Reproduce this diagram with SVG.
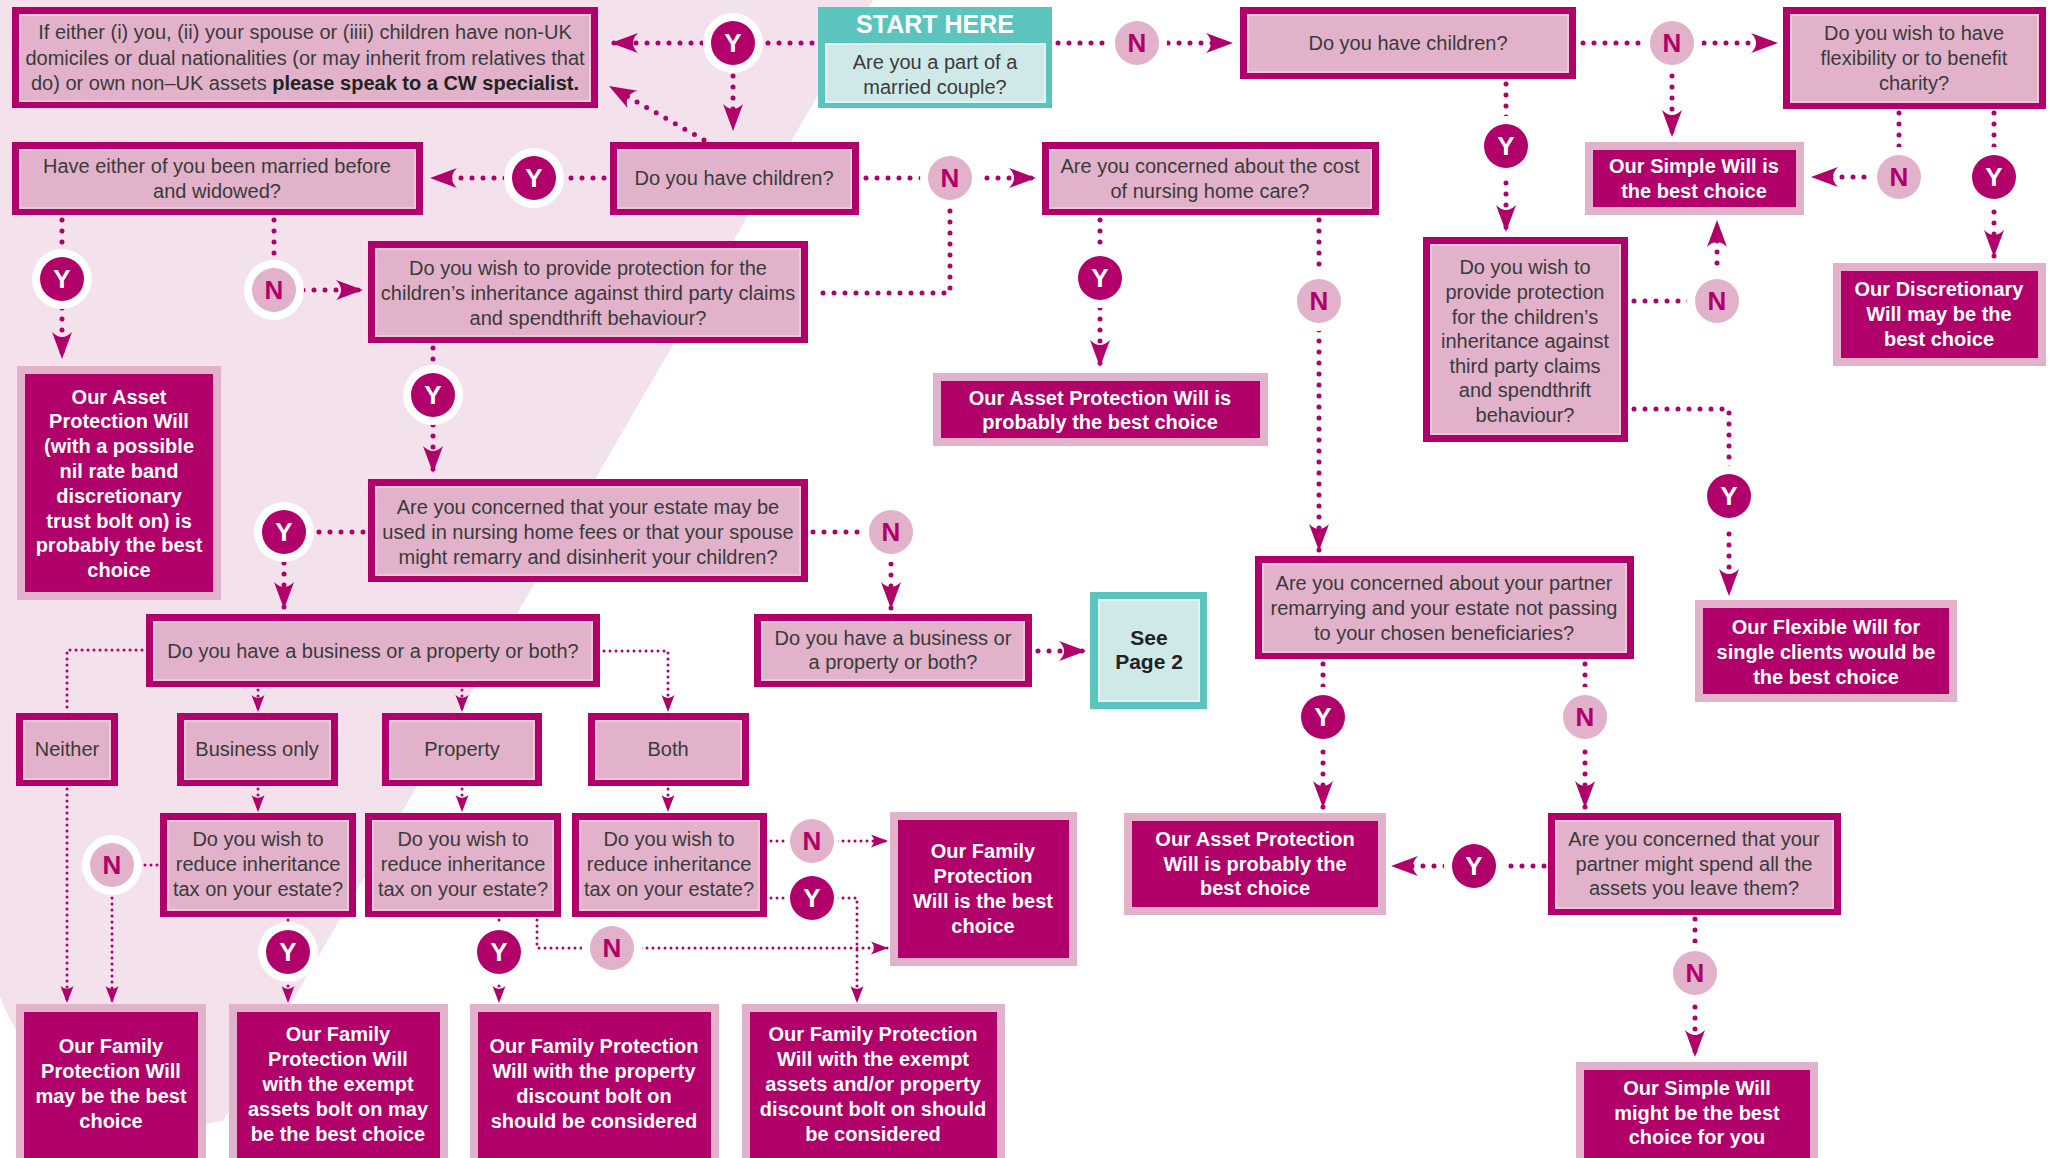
<svg xmlns="http://www.w3.org/2000/svg" width="2053" height="1158" viewBox="0 0 2053 1158">
<style>
.t{font-family:"Liberation Sans",Arial,Helvetica,sans-serif;font-size:20px;fill:#3a3a3a;text-anchor:middle}
.w{font-family:"Liberation Sans",Arial,Helvetica,sans-serif;font-size:20px;font-weight:bold;fill:#ffffff;text-anchor:middle}
.k{font-family:"Liberation Sans",Arial,Helvetica,sans-serif;font-size:21px;font-weight:bold;fill:#222222;text-anchor:middle}
.qo{fill:#b1006a}
.qi{fill:#e1b2ca;stroke:#ebc8da;stroke-width:2}
.ao{fill:#e1b2ca}
.ai{fill:#b1006a}
.to{fill:#5bc4bd}
.ti{fill:#cfe9e8;stroke:#e2f3f2;stroke-width:2}
.d{fill:none;stroke:#b1006a;stroke-width:5;stroke-linecap:round;stroke-dasharray:0 11}
.f{fill:none;stroke:#b1006a;stroke-width:3;stroke-linecap:round;stroke-dasharray:0 6}
.ring{fill:#ffffff}
.cy{fill:#b1006a}
.cn{fill:#e1b2ca}
.ly{font-family:"Liberation Sans",Arial,Helvetica,sans-serif;font-size:26px;font-weight:bold;fill:#ffffff;text-anchor:middle}
.lnn{font-family:"Liberation Sans",Arial,Helvetica,sans-serif;font-size:26px;font-weight:bold;fill:#b1006a;text-anchor:middle}
</style>
<defs>
<marker id="ah" markerUnits="userSpaceOnUse" markerWidth="30" markerHeight="22" viewBox="-29 -11 30 22" refX="0" refY="0" orient="auto">
<path d="M0,0 L-27,-10 Q-17,0 -27,10 Z" fill="#b1006a"/>
</marker>
<marker id="as" markerUnits="userSpaceOnUse" markerWidth="20" markerHeight="16" viewBox="-19 -8 20 16" refX="0" refY="0" orient="auto">
<path d="M0,0 L-17,-6.5 Q-11,0 -17,6.5 Z" fill="#b1006a"/>
</marker>
</defs>
<rect x="0" y="0" width="2053" height="1158" fill="#ffffff"/>
<path d="M0,0 L873,0 L223,1121 A198,198 0 0 1 0,997 Z" fill="#f3e2eb"/>

<g id="connectors">
<path class="d" d="M812,43 L611,43" marker-end="url(#ah)"/>
<path class="d" d="M733,43 L733,131" marker-end="url(#ah)"/>
<path class="d" d="M704,140 L609,86" marker-end="url(#ah)"/>
<path class="d" d="M1058,43 L1233,43" marker-end="url(#ah)"/>
<path class="d" d="M1583,43 L1778,43" marker-end="url(#ah)"/>
<path class="d" d="M1672,43 L1672,137" marker-end="url(#ah)"/>
<path class="d" d="M1899,113 L1899,177 L1811,177" marker-end="url(#ah)"/>
<path class="d" d="M1994,113 L1994,257" marker-end="url(#ah)"/>
<path class="d" d="M1506,84 L1506,232" marker-end="url(#ah)"/>
<path class="d" d="M1634,301 L1717,301 L1717,220" marker-end="url(#ah)"/>
<path class="d" d="M1634,409 L1729,409 L1729,596" marker-end="url(#ah)"/>
<path class="d" d="M604,178 L430,178" marker-end="url(#ah)"/>
<path class="d" d="M866,178 L1036,178" marker-end="url(#ah)"/>
<path class="d" d="M950,178 L950,293 L815,293"/>
<path class="d" d="M62,220 L62,359" marker-end="url(#ah)"/>
<path class="d" d="M274,220 L274,290 L363,290" marker-end="url(#ah)"/>
<path class="d" d="M433,348 L433,473" marker-end="url(#ah)"/>
<path class="d" d="M363,532 L284,532 L284,609" marker-end="url(#ah)"/>
<path class="d" d="M813,532 L891,532 L891,609" marker-end="url(#ah)"/>
<path class="d" d="M1038,651 L1086,651" marker-end="url(#ah)"/>
<path class="d" d="M1100,220 L1100,367" marker-end="url(#ah)"/>
<path class="d" d="M1319,220 L1319,551" marker-end="url(#ah)"/>
<path class="d" d="M1323,664 L1323,808" marker-end="url(#ah)"/>
<path class="d" d="M1585,664 L1585,808" marker-end="url(#ah)"/>
<path class="d" d="M1544,866 L1391,866" marker-end="url(#ah)"/>
<path class="d" d="M1695,919 L1695,1057" marker-end="url(#ah)"/>
<path class="f" d="M142,650 L67,650 L67,711"/>
<path class="f" d="M258,690 L258,712" marker-end="url(#as)"/>
<path class="f" d="M462,690 L462,712" marker-end="url(#as)"/>
<path class="f" d="M604,651 L668,651 L668,712" marker-end="url(#as)"/>
<path class="f" d="M258,789 L258,812" marker-end="url(#as)"/>
<path class="f" d="M462,789 L462,812" marker-end="url(#as)"/>
<path class="f" d="M668,789 L668,812" marker-end="url(#as)"/>
<path class="f" d="M67,789 L67,1003" marker-end="url(#as)"/>
<path class="f" d="M157,865 L112,865 L112,1003" marker-end="url(#as)"/>
<path class="f" d="M288,920 L288,1003" marker-end="url(#as)"/>
<path class="f" d="M499,920 L499,1003" marker-end="url(#as)"/>
<path class="f" d="M537,920 L537,948 L888,948" marker-end="url(#as)"/>
<path class="f" d="M771,841 L888,841" marker-end="url(#as)"/>
<path class="f" d="M771,898 L857,898 L857,1003" marker-end="url(#as)"/>
</g>

<g id="node-a">
<rect class="qo" x="12" y="7" width="586" height="101"/><rect class="qi" x="20" y="15" width="570" height="86"/>
<text class="t" x="305" y="39">If either (i) you, (ii) your spouse or (iiii) children have non-UK</text>
<text class="t" x="305" y="65">domiciles or dual nationalities (or may inherit from relatives that</text>
<text class="t" x="305" y="90">do) or own non–UK assets <tspan font-weight="bold" fill="#222">please speak to a CW specialist.</tspan></text>
</g>
<g id="node-start">
<rect class="to" x="818" y="7" width="234" height="101"/><rect class="ti" x="826" y="44" width="219" height="58"/>
<text x="935" y="33" font-family="Liberation Sans, Arial, sans-serif" font-size="25" font-weight="bold" fill="#ffffff" text-anchor="middle">START HERE</text>
<text class="t" x="935" y="69">Are you a part of a</text>
<text class="t" x="935" y="94">married couple?</text>
</g>
<g id="node-c">
<rect class="qo" x="1240" y="7" width="336" height="72"/><rect class="qi" x="1248" y="15" width="320" height="57"/>
<text class="t" x="1408" y="50">Do you have children?</text>
</g>
<g id="node-d">
<rect class="qo" x="1783" y="7" width="263" height="102"/><rect class="qi" x="1791" y="15" width="247" height="87"/>
<text class="t" x="1914" y="40">Do you wish to have</text>
<text class="t" x="1914" y="65">flexibility or to benefit</text>
<text class="t" x="1914" y="90">charity?</text>
</g>
<g id="node-b1">
<rect class="qo" x="12" y="142" width="411" height="73"/><rect class="qi" x="20" y="150" width="395" height="58"/>
<text class="t" x="217" y="173">Have either of you been married before</text>
<text class="t" x="217" y="198">and widowed?</text>
</g>
<g id="node-b2">
<rect class="qo" x="610" y="142" width="249" height="73"/><rect class="qi" x="618" y="150" width="233" height="58"/>
<text class="t" x="734" y="185">Do you have children?</text>
</g>
<g id="node-i">
<rect class="qo" x="1042" y="142" width="337" height="73"/><rect class="qi" x="1050" y="150" width="321" height="58"/>
<text class="t" x="1210" y="173">Are you concerned about the cost</text>
<text class="t" x="1210" y="198">of nursing home care?</text>
</g>
<g id="node-e">
<rect class="ao" x="1585" y="142" width="219" height="73"/><rect class="ai" x="1593" y="150" width="203" height="57"/>
<text class="w" x="1694" y="173">Our Simple Will is</text>
<text class="w" x="1694" y="198">the best choice</text>
</g>
<g id="node-f">
<rect class="ao" x="1833" y="263" width="213" height="103"/><rect class="ai" x="1841" y="271" width="197" height="87"/>
<text class="w" x="1939" y="296">Our Discretionary</text>
<text class="w" x="1939" y="321">Will may be the</text>
<text class="w" x="1939" y="346">best choice</text>
</g>
<g id="node-g">
<rect class="qo" x="1423" y="237" width="205" height="205"/><rect class="qi" x="1431" y="245" width="189" height="189"/>
<text class="t" x="1525" y="274">Do you wish to</text>
<text class="t" x="1525" y="299">provide protection</text>
<text class="t" x="1525" y="324">for the children’s</text>
<text class="t" x="1525" y="348">inheritance against</text>
<text class="t" x="1525" y="373">third party claims</text>
<text class="t" x="1525" y="397">and spendthrift</text>
<text class="t" x="1525" y="422">behaviour?</text>
</g>
<g id="node-j">
<rect class="qo" x="368" y="241" width="440" height="102"/><rect class="qi" x="376" y="249" width="424" height="87"/>
<text class="t" x="588" y="275">Do you wish to provide protection for the</text>
<text class="t" x="588" y="300">children’s inheritance against third party claims</text>
<text class="t" x="588" y="325">and spendthrift behaviour?</text>
</g>
<g id="node-k">
<rect class="ao" x="17" y="366" width="204" height="234"/><rect class="ai" x="25" y="374" width="188" height="218"/>
<text class="w" x="119" y="404">Our Asset</text>
<text class="w" x="119" y="428">Protection Will</text>
<text class="w" x="119" y="453">(with a possible</text>
<text class="w" x="119" y="478">nil rate band</text>
<text class="w" x="119" y="503">discretionary</text>
<text class="w" x="119" y="528">trust bolt on) is</text>
<text class="w" x="119" y="552">probably the best</text>
<text class="w" x="119" y="577">choice</text>
</g>
<g id="node-p">
<rect class="ao" x="933" y="373" width="335" height="73"/><rect class="ai" x="941" y="381" width="319" height="57"/>
<text class="w" x="1100" y="405">Our Asset Protection Will is</text>
<text class="w" x="1100" y="429">probably the best choice</text>
</g>
<g id="node-l">
<rect class="qo" x="368" y="479" width="440" height="103"/><rect class="qi" x="376" y="487" width="424" height="88"/>
<text class="t" x="588" y="514">Are you concerned that your estate may be</text>
<text class="t" x="588" y="539">used in nursing home fees or that your spouse</text>
<text class="t" x="588" y="564">might remarry and disinherit your children?</text>
</g>
<g id="node-q">
<rect class="qo" x="1255" y="556" width="379" height="103"/><rect class="qi" x="1263" y="564" width="363" height="88"/>
<text class="t" x="1444" y="590">Are you concerned about your partner</text>
<text class="t" x="1444" y="615">remarrying and your estate not passing</text>
<text class="t" x="1444" y="640">to your chosen beneficiaries?</text>
</g>
<g id="node-h">
<rect class="ao" x="1695" y="600" width="262" height="102"/><rect class="ai" x="1703" y="608" width="246" height="86"/>
<text class="w" x="1826" y="634">Our Flexible Will for</text>
<text class="w" x="1826" y="659">single clients would be</text>
<text class="w" x="1826" y="684">the best choice</text>
</g>
<g id="node-m">
<rect class="qo" x="146" y="614" width="454" height="73"/><rect class="qi" x="154" y="622" width="438" height="58"/>
<text class="t" x="373" y="658">Do you have a business or a property or both?</text>
</g>
<g id="node-n2">
<rect class="qo" x="754" y="614" width="278" height="73"/><rect class="qi" x="762" y="622" width="262" height="58"/>
<text class="t" x="893" y="645">Do you have a business or</text>
<text class="t" x="893" y="669">a property or both?</text>
</g>
<g id="node-page2">
<rect class="to" x="1090" y="592" width="117" height="117"/><rect class="ti" x="1099" y="600" width="100" height="101"/>
<text class="k" x="1149" y="645">See</text>
<text class="k" x="1149" y="669">Page 2</text>
</g>
<g id="node-neither">
<rect class="qo" x="16" y="713" width="102" height="73"/><rect class="qi" x="24" y="721" width="86" height="58"/>
<text class="t" x="67" y="756">Neither</text>
</g>
<g id="node-business">
<rect class="qo" x="177" y="713" width="161" height="73"/><rect class="qi" x="185" y="721" width="145" height="58"/>
<text class="t" x="257" y="756">Business only</text>
</g>
<g id="node-property">
<rect class="qo" x="382" y="713" width="160" height="73"/><rect class="qi" x="390" y="721" width="144" height="58"/>
<text class="t" x="462" y="756">Property</text>
</g>
<g id="node-both">
<rect class="qo" x="588" y="713" width="161" height="73"/><rect class="qi" x="596" y="721" width="145" height="58"/>
<text class="t" x="668" y="756">Both</text>
</g>
<g id="node-q1">
<rect class="qo" x="160" y="813" width="196" height="104"/><rect class="qi" x="168" y="821" width="180" height="89"/>
<text class="t" x="258" y="846">Do you wish to</text>
<text class="t" x="258" y="871">reduce inheritance</text>
<text class="t" x="258" y="896">tax on your estate?</text>
</g>
<g id="node-q2">
<rect class="qo" x="365" y="813" width="196" height="104"/><rect class="qi" x="373" y="821" width="180" height="89"/>
<text class="t" x="463" y="846">Do you wish to</text>
<text class="t" x="463" y="871">reduce inheritance</text>
<text class="t" x="463" y="896">tax on your estate?</text>
</g>
<g id="node-q3">
<rect class="qo" x="572" y="813" width="195" height="104"/><rect class="qi" x="580" y="821" width="179" height="89"/>
<text class="t" x="669" y="846">Do you wish to</text>
<text class="t" x="669" y="871">reduce inheritance</text>
<text class="t" x="669" y="896">tax on your estate?</text>
</g>
<g id="node-u">
<rect class="ao" x="890" y="812" width="187" height="154"/><rect class="ai" x="898" y="820" width="171" height="138"/>
<text class="w" x="983" y="858">Our Family</text>
<text class="w" x="983" y="883">Protection</text>
<text class="w" x="983" y="908">Will is the best</text>
<text class="w" x="983" y="933">choice</text>
</g>
<g id="node-r">
<rect class="ao" x="1124" y="813" width="262" height="102"/><rect class="ai" x="1132" y="821" width="246" height="86"/>
<text class="w" x="1255" y="846">Our Asset Protection</text>
<text class="w" x="1255" y="871">Will is probably the</text>
<text class="w" x="1255" y="895">best choice</text>
</g>
<g id="node-s">
<rect class="qo" x="1548" y="813" width="293" height="102"/><rect class="qi" x="1556" y="821" width="277" height="87"/>
<text class="t" x="1694" y="846">Are you concerned that your</text>
<text class="t" x="1694" y="871">partner might spend all the</text>
<text class="t" x="1694" y="895">assets you leave them?</text>
</g>
<g id="node-t">
<rect class="ao" x="1576" y="1062" width="242" height="110"/><rect class="ai" x="1584" y="1070" width="226" height="110"/>
<text class="w" x="1697" y="1095">Our Simple Will</text>
<text class="w" x="1697" y="1120">might be the best</text>
<text class="w" x="1697" y="1144">choice for you</text>
</g>
<g id="node-v1">
<rect class="ao" x="16" y="1004" width="190" height="170"/><rect class="ai" x="24" y="1012" width="174" height="170"/>
<text class="w" x="111" y="1053">Our Family</text>
<text class="w" x="111" y="1078">Protection Will</text>
<text class="w" x="111" y="1103">may be the best</text>
<text class="w" x="111" y="1128">choice</text>
</g>
<g id="node-v2">
<rect class="ao" x="229" y="1004" width="219" height="170"/><rect class="ai" x="237" y="1012" width="203" height="170"/>
<text class="w" x="338" y="1041">Our Family</text>
<text class="w" x="338" y="1066">Protection Will</text>
<text class="w" x="338" y="1091">with the exempt</text>
<text class="w" x="338" y="1116">assets bolt on may</text>
<text class="w" x="338" y="1141">be the best choice</text>
</g>
<g id="node-v3">
<rect class="ao" x="470" y="1004" width="249" height="170"/><rect class="ai" x="478" y="1012" width="233" height="170"/>
<text class="w" x="594" y="1053">Our Family Protection</text>
<text class="w" x="594" y="1078">Will with the property</text>
<text class="w" x="594" y="1103">discount bolt on</text>
<text class="w" x="594" y="1128">should be considered</text>
</g>
<g id="node-v4">
<rect class="ao" x="742" y="1004" width="263" height="170"/><rect class="ai" x="750" y="1012" width="247" height="170"/>
<text class="w" x="873" y="1041">Our Family Protection</text>
<text class="w" x="873" y="1066">Will with the exempt</text>
<text class="w" x="873" y="1091">assets and/or property</text>
<text class="w" x="873" y="1116">discount bolt on should</text>
<text class="w" x="873" y="1141">be considered</text>
</g>

<g id="labels">
<g id="lbl-1"><circle class="ring" cx="733" cy="43" r="30"/><circle class="cy" cx="733" cy="43" r="22"/><text class="ly" x="733" y="52">Y</text></g>
<g id="lbl-2"><circle class="ring" cx="1137" cy="43" r="30"/><circle class="cn" cx="1137" cy="43" r="22"/><text class="lnn" x="1137" y="52">N</text></g>
<g id="lbl-3"><circle class="ring" cx="1672" cy="43" r="30"/><circle class="cn" cx="1672" cy="43" r="22"/><text class="lnn" x="1672" y="52">N</text></g>
<g id="lbl-4"><circle class="ring" cx="534" cy="178" r="30"/><circle class="cy" cx="534" cy="178" r="22"/><text class="ly" x="534" y="187">Y</text></g>
<g id="lbl-5"><circle class="ring" cx="950" cy="178" r="30"/><circle class="cn" cx="950" cy="178" r="22"/><text class="lnn" x="950" y="187">N</text></g>
<g id="lbl-6"><circle class="ring" cx="1506" cy="146" r="30"/><circle class="cy" cx="1506" cy="146" r="22"/><text class="ly" x="1506" y="155">Y</text></g>
<g id="lbl-7"><circle class="ring" cx="1899" cy="177" r="30"/><circle class="cn" cx="1899" cy="177" r="22"/><text class="lnn" x="1899" y="186">N</text></g>
<g id="lbl-8"><circle class="ring" cx="1994" cy="177" r="30"/><circle class="cy" cx="1994" cy="177" r="22"/><text class="ly" x="1994" y="186">Y</text></g>
<g id="lbl-9"><circle class="ring" cx="62" cy="279" r="30"/><circle class="cy" cx="62" cy="279" r="22"/><text class="ly" x="62" y="288">Y</text></g>
<g id="lbl-10"><circle class="ring" cx="274" cy="290" r="30"/><circle class="cn" cx="274" cy="290" r="22"/><text class="lnn" x="274" y="299">N</text></g>
<g id="lbl-11"><circle class="ring" cx="1717" cy="301" r="30"/><circle class="cn" cx="1717" cy="301" r="22"/><text class="lnn" x="1717" y="310">N</text></g>
<g id="lbl-12"><circle class="ring" cx="1100" cy="278" r="30"/><circle class="cy" cx="1100" cy="278" r="22"/><text class="ly" x="1100" y="287">Y</text></g>
<g id="lbl-13"><circle class="ring" cx="1319" cy="301" r="30"/><circle class="cn" cx="1319" cy="301" r="22"/><text class="lnn" x="1319" y="310">N</text></g>
<g id="lbl-14"><circle class="ring" cx="433" cy="395" r="30"/><circle class="cy" cx="433" cy="395" r="22"/><text class="ly" x="433" y="404">Y</text></g>
<g id="lbl-15"><circle class="ring" cx="284" cy="532" r="30"/><circle class="cy" cx="284" cy="532" r="22"/><text class="ly" x="284" y="541">Y</text></g>
<g id="lbl-16"><circle class="ring" cx="891" cy="532" r="30"/><circle class="cn" cx="891" cy="532" r="22"/><text class="lnn" x="891" y="541">N</text></g>
<g id="lbl-17"><circle class="ring" cx="1729" cy="496" r="30"/><circle class="cy" cx="1729" cy="496" r="22"/><text class="ly" x="1729" y="505">Y</text></g>
<g id="lbl-18"><circle class="ring" cx="1323" cy="717" r="30"/><circle class="cy" cx="1323" cy="717" r="22"/><text class="ly" x="1323" y="726">Y</text></g>
<g id="lbl-19"><circle class="ring" cx="1585" cy="717" r="30"/><circle class="cn" cx="1585" cy="717" r="22"/><text class="lnn" x="1585" y="726">N</text></g>
<g id="lbl-20"><circle class="ring" cx="1474" cy="866" r="30"/><circle class="cy" cx="1474" cy="866" r="22"/><text class="ly" x="1474" y="875">Y</text></g>
<g id="lbl-21"><circle class="ring" cx="1695" cy="973" r="30"/><circle class="cn" cx="1695" cy="973" r="22"/><text class="lnn" x="1695" y="982">N</text></g>
<g id="lbl-22"><circle class="ring" cx="112" cy="865" r="30"/><circle class="cn" cx="112" cy="865" r="22"/><text class="lnn" x="112" y="874">N</text></g>
<g id="lbl-23"><circle class="ring" cx="288" cy="952" r="30"/><circle class="cy" cx="288" cy="952" r="22"/><text class="ly" x="288" y="961">Y</text></g>
<g id="lbl-24"><circle class="ring" cx="499" cy="952" r="30"/><circle class="cy" cx="499" cy="952" r="22"/><text class="ly" x="499" y="961">Y</text></g>
<g id="lbl-25"><circle class="ring" cx="612" cy="948" r="30"/><circle class="cn" cx="612" cy="948" r="22"/><text class="lnn" x="612" y="957">N</text></g>
<g id="lbl-26"><circle class="ring" cx="812" cy="841" r="26"/><circle class="cn" cx="812" cy="841" r="22"/><text class="lnn" x="812" y="850">N</text></g>
<g id="lbl-27"><circle class="ring" cx="812" cy="898" r="26"/><circle class="cy" cx="812" cy="898" r="22"/><text class="ly" x="812" y="907">Y</text></g>
</g>
</svg>
